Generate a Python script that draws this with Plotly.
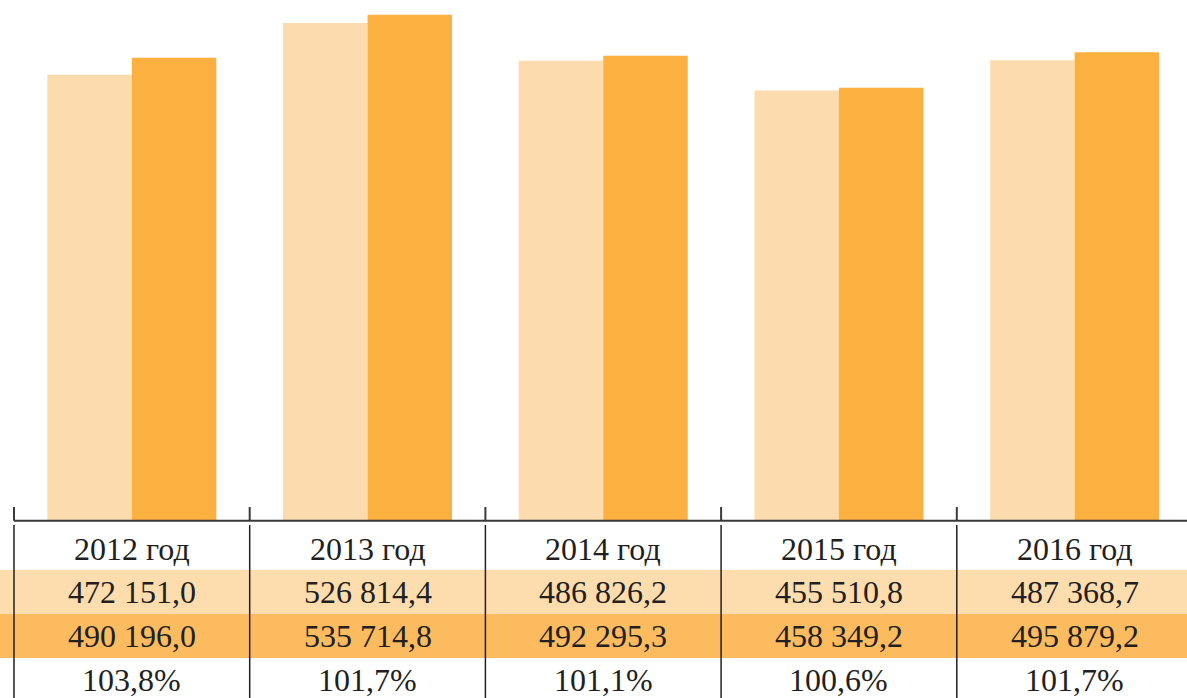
import plotly.graph_objects as go

years = ["2012 год", "2013 год", "2014 год", "2015 год", "2016 год"]
values_prev = [472151.0, 526814.4, 486826.2, 455510.8, 487368.7]
values_curr = [490196.0, 535714.8, 492295.3, 458349.2, 495879.2]
growth_pct = [103.8, 101.7, 101.1, 100.6, 101.7]

LIGHT = "#fcdbae"
DARK = "#fbb040"
LIGHT_BAND = "#fddcad"
DARK_BAND = "#fbbb5e"
TEXT = "#231f20"
FONT = "Liberation Serif"
W, H = 1187, 698


def py(pixel_y):
    # pixel row (from top) -> paper coordinate
    return (H - pixel_y) / H


def fmt_num(v):
    return f"{v:,.1f}".replace(",", " ").replace(".", ",")


def fmt_pct(v):
    return f"{v:.1f}".replace(".", ",") + "%"


idx = list(range(len(years)))
fig = go.Figure()
fig.add_bar(x=idx, y=values_prev, marker=dict(color=LIGHT, line_width=0))
fig.add_bar(x=idx, y=values_curr, marker=dict(color=DARK, line_width=0))

x_left = -0.5 - 14 / 235.7
x_right = -0.5 + (W - 14) / 235.7
base = py(520.7)

fig.update_layout(
    width=W,
    height=H,
    margin=dict(l=0, r=0, t=0, b=0),
    paper_bgcolor="white",
    plot_bgcolor="white",
    showlegend=False,
    barmode="group",
    bargap=0.283,
    bargroupgap=0,
    xaxis=dict(range=[x_left, x_right], visible=False, domain=[0, 1]),
    yaxis=dict(range=[0, 551200], visible=False, domain=[base, 1]),
    font=dict(family=FONT, color=TEXT),
)

# table bands
for y0, y1, color in [(570, 614, LIGHT_BAND), (614, 658, DARK_BAND)]:
    fig.add_shape(type="rect", xref="paper", yref="paper", x0=0, x1=1,
                  y0=py(y1), y1=py(y0), fillcolor=color, line_width=0,
                  layer="below")

# baseline axis with boundary ticks
fig.add_shape(type="line", xref="x", yref="paper", x0=-0.5, x1=x_right,
              y0=base, y1=base, line=dict(color="#3a3a3a", width=2))
for i in idx:
    b = i - 0.5
    fig.add_shape(type="line", xref="x", yref="paper", x0=b, x1=b,
                  y0=base, y1=py(507), line=dict(color="#3a3a3a", width=2))
    fig.add_shape(type="line", xref="x", yref="paper", x0=b, x1=b,
                  y0=py(525), y1=0, line=dict(color="#231f20", width=1.5))

rows = [
    (549, years),
    (592, [fmt_num(v) for v in values_prev]),
    (636, [fmt_num(v) for v in values_curr]),
    (680, [fmt_pct(v) for v in growth_pct]),
]
for yc, labels in rows:
    for i, label in zip(idx, labels):
        fig.add_annotation(x=i, y=py(yc), xref="x", yref="paper", text=label,
                           showarrow=False, xanchor="center", yanchor="middle",
                           font=dict(size=32, family=FONT, color=TEXT))

fig.write_html(
    "out.html",
    config={"displayModeBar": False},
    post_script="document.body.style.margin='0';document.body.style.overflow='hidden';",
)
